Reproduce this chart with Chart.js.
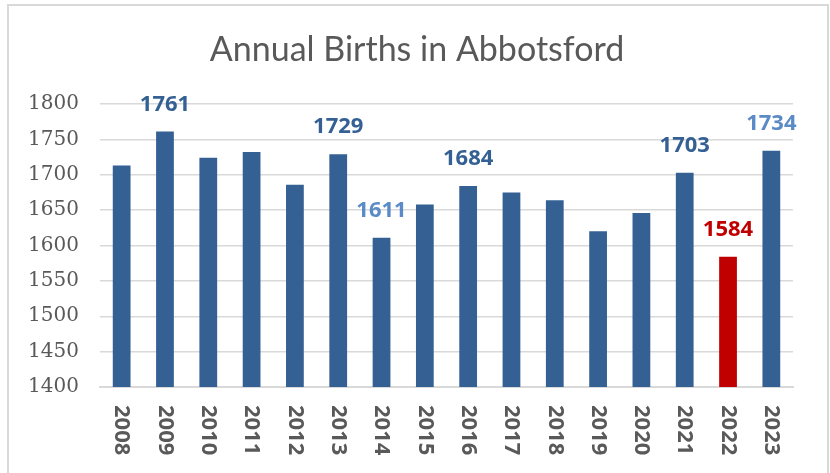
<!DOCTYPE html>
<html>
<head>
<meta charset="utf-8">
<script src="https://cdn.jsdelivr.net/npm/chart.js@4.4.1/dist/chart.umd.min.js"></script>
<style>
  html, body { margin: 0; padding: 0; background: #fff; }
  #wrap { position: relative; width: 830px; height: 473px; }
</style>
</head>
<body>
<div id="wrap"><canvas id="birthsChart" width="830" height="473"></canvas></div>
<script>
// ==========================================
// DATA
// ==========================================

const chartTitle = 'Annual Births in Abbotsford';
const years = ['2008','2009','2010','2011','2012','2013','2014','2015',
               '2016','2017','2018','2019','2020','2021','2022','2023'];
const births = [1713, 1761, 1724, 1732, 1686, 1729, 1611, 1658,
                1684, 1675, 1664, 1620, 1646, 1703, 1584, 1734];
const labelledYears = ['2009','2013','2014','2016','2021','2022','2023'];
const yTicks = [1400, 1450, 1500, 1550, 1600, 1650, 1700, 1750, 1800];

// ==========================================
// STYLE
// ==========================================

const BAR_BLUE = '#346094';
const BAR_RED = '#C00000';
const LIGHT_BLUE = '#5B8BC7';
const GRAY_TEXT = '#595959';
const GRID = '#d9d9d9';

const highlightYear = '2022';
const lightLabelYears = ['2014', '2023'];

function labelColor(year) {
  if (year === highlightYear) return BAR_RED;
  if (lightLabelYears.includes(year)) return LIGHT_BLUE;
  return BAR_BLUE;
}

// ==========================================
// PLUGINS
// ==========================================

// frame + title, centred on the whole frame (not the padded layout box)
const frame = {
  id: 'frame',
  beforeDraw(chart) {
    const ctx = chart.ctx;
    ctx.save();
    ctx.strokeStyle = GRID;
    ctx.lineWidth = 2;
    ctx.strokeRect(8, 5, 820, 500);
    ctx.fillStyle = GRAY_TEXT;
    ctx.font = '34px Lato';
    ctx.textAlign = 'center';
    ctx.textBaseline = 'alphabetic';
    ctx.fillText(chartTitle, chart.width / 2 + 2, 61);
    ctx.restore();
  }
};

const valueLabels = {
  id: 'valueLabels',
  afterDatasetsDraw(chart) {
    const ctx = chart.ctx;
    const meta = chart.getDatasetMeta(0);
    ctx.save();
    ctx.font = 'bold 22px "Noto Sans"';
    ctx.textAlign = 'center';
    ctx.textBaseline = 'middle';
    years.forEach((y, i) => {
      if (!labelledYears.includes(y)) return;
      const bar = meta.data[i];
      ctx.fillStyle = labelColor(y);
      ctx.fillText(String(births[i]), bar.x, bar.y - 27);
    });
    ctx.restore();
  }
};

const rotatedYears = {
  id: 'rotatedYears',
  afterDraw(chart) {
    const ctx = chart.ctx;
    const scale = chart.scales.x;
    ctx.save();
    ctx.font = 'bold 22px "Noto Sans"';
    ctx.fillStyle = GRAY_TEXT;
    ctx.textAlign = 'left';
    ctx.textBaseline = 'middle';
    scale.ticks.forEach((t, i) => {
      const x = scale.getPixelForTick(i);
      ctx.save();
      ctx.translate(x, scale.top + 18);
      ctx.rotate(Math.PI / 2);
      ctx.fillText(years[i], 0, 0);
      ctx.restore();
    });
    ctx.restore();
  }
};

// ==========================================
// CHART
// ==========================================

new Chart(document.getElementById('birthsChart'), {
  type: 'bar',
  data: {
    labels: years,
    datasets: [{
      label: 'Births',
      data: births,
      backgroundColor: years.map(y => y === highlightYear ? BAR_RED : BAR_BLUE),
      borderWidth: 0,
      barPercentage: 0.41,
      categoryPercentage: 1
    }]
  },
  options: {
    responsive: false,
    animation: false,
    layout: { padding: { top: 104, right: 37, bottom: 0, left: 0 } },
    plugins: {
      legend: { display: false },
      tooltip: { enabled: false },
      title: { display: false }
    },
    scales: {
      x: {
        grid: { display: false },
        border: { display: true, color: GRID, width: 2 },
        ticks: { display: false },
        afterFit: s => { s.height = 86; }
      },
      y: {
        min: yTicks[0],
        max: yTicks[yTicks.length - 1],
        afterBuildTicks: s => { s.ticks = yTicks.map(v => ({ value: v })); },
        grid: { color: GRID, lineWidth: 1.5, drawTicks: false },
        border: { display: false },
        ticks: {
          color: GRAY_TEXT,
          padding: 21,
          font: { family: 'DejaVu Serif', size: 20 },
          callback: v => String(v)
        },
        afterFit: s => { s.width = 100; }
      }
    }
  },
  plugins: [frame, valueLabels, rotatedYears]
});
</script>
</body>
</html>
